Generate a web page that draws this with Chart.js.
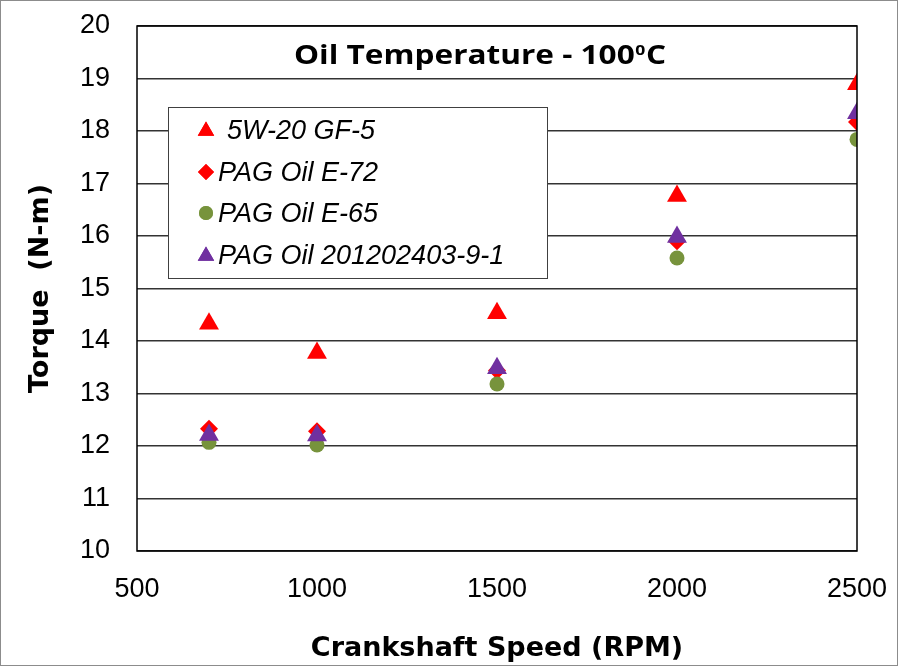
<!DOCTYPE html>
<html>
<head>
<meta charset="utf-8">
<script src="https://cdn.jsdelivr.net/npm/chart.js@4"></script>
<style>
  html, body { margin: 0; padding: 0; background: #fff; }
  #wrap { width: 899px; height: 667px; position: relative; }
</style>
</head>
<body>
<div id="wrap"><canvas id="c" width="899" height="667"></canvas></div>
<script>
// Crankshaft speed (RPM)
const speeds = [700, 1000, 1500, 2000, 2500];

// Torque (N-m) per oil
const gf5     = [14.33, 13.77, 14.53, 16.76, 18.89];
const pagE72  = [12.33, 12.28, 13.44, 15.90, 18.17];
const pagE65  = [12.07, 12.02, 13.18, 15.58, 17.84];
const pag2012 = [12.21, 12.20, 13.48, 15.98, 18.34];

const seriesNames = ["5W-20 GF-5", "PAG Oil E-72", "PAG Oil E-65", "PAG Oil 201202403-9-1"];
const yTicks = [10, 11, 12, 13, 14, 15, 16, 17, 18, 19, 20];
const xTicks = [500, 1000, 1500, 2000, 2500];

const toPts = arr => arr.map((v, i) => ({ x: speeds[i], y: v }));

const datasets = [
  { label: seriesNames[0], data: toPts(gf5), pointStyle: "triangle", pointRadius: 11.5,
    backgroundColor: "#ff0000", borderColor: "#ff0000", order: 3 },
  { label: seriesNames[1], data: toPts(pagE72), pointStyle: "rectRot", pointRadius: 9,
    backgroundColor: "#ff0000", borderColor: "#ff0000", order: 2 },
  { label: seriesNames[2], data: toPts(pagE65), pointStyle: "circle", pointRadius: 7.5,
    backgroundColor: "#77933c", borderColor: "#77933c", order: 1 },
  { label: seriesNames[3], data: toPts(pag2012), pointStyle: "triangle", pointRadius: 11.5,
    backgroundColor: "#7030a0", borderColor: "#7030a0", order: 0 }
];
datasets.forEach(d => { d.borderWidth = 0; d.pointHoverRadius = d.pointRadius; d.showLine = false; });

const AXIS_FONT = "'Liberation Sans', Arial, sans-serif";

// frame, plot border, title and legend drawn inside the plot area
const decor = {
  id: "decor",
  afterDraw(chart){
    const ctx = chart.ctx;
    const a = chart.chartArea;
    ctx.save();
    // plot border
    ctx.strokeStyle = "#000";
    ctx.lineWidth = 1.5;
    ctx.strokeRect(a.left, a.top, a.right - a.left, a.bottom - a.top);
    // outer frame
    ctx.strokeStyle = "#8c8c8c";
    ctx.lineWidth = 1;
    ctx.strokeRect(0.5, 0.5, chart.width - 2, chart.height - 2);

    // title, stretched to the width of the original
    ctx.fillStyle = "#000";
    ctx.textBaseline = "alphabetic";
    ctx.textAlign = "left";
    const big = "bold 27px 'Open Sans', sans-serif";
    const small = "bold 15px 'Open Sans', sans-serif";
    const t1 = "Oil Temperature - 100";
    ctx.font = big;
    const w1 = ctx.measureText(t1).width;
    const w3 = ctx.measureText("C").width;
    ctx.font = small;
    const w2 = ctx.measureText("0").width + 1;
    const total = w1 + w2 + w3;
    const sx = 372 / total;
    ctx.translate(480 - 372 / 2, 64);
    ctx.scale(sx, 1);
    ctx.font = big;
    ctx.fillText(t1, 0, 0);
    ctx.font = small;
    ctx.fillText("0", w1 + 0.5, -9);
    ctx.font = big;
    ctx.fillText("C", w1 + w2, 0);
    ctx.setTransform(1, 0, 0, 1, 0, 0);

    // legend box
    const lx = 168, ly = 107, lw = 379, lh = 171;
    ctx.fillStyle = "#fff";
    ctx.fillRect(lx, ly, lw, lh);
    ctx.strokeStyle = "#404040";
    ctx.lineWidth = 1;
    ctx.strokeRect(lx + 0.5, ly + 0.5, lw, lh);
    const rows = [130, 172, 213, 255];
    ctx.textBaseline = "middle";
    chart.data.datasets.forEach((ds, i) => {
      const cy = rows[i];
      const cx = 206;
      ctx.fillStyle = ds.backgroundColor;
      const r = ds.pointStyle === "triangle" ? 9.5 : (ds.pointStyle === "rectRot" ? 8 : 7);
      Chart.helpers.drawPoint(ctx, { pointStyle: ds.pointStyle, radius: r, rotation: 0, borderWidth: 0 }, cx, cy + (ds.pointStyle === "triangle" ? 1 : 0));
      ctx.fill();
      ctx.fillStyle = "#000";
      ctx.font = "italic 27px " + AXIS_FONT;
      ctx.textAlign = "left";
      ctx.fillText(ds.label, i === 0 ? 227 : 218, cy + 1);
    });
    ctx.restore();
  }
};

new Chart(document.getElementById("c"), {
  type: "scatter",
  data: { datasets },
  options: {
    responsive: false,
    animation: false,
    events: [],
    layout: { padding: { left: 0, right: 42, top: 26, bottom: 0 } },
    plugins: { legend: { display: false }, tooltip: { enabled: false } },
    scales: {
      x: {
        type: "linear", min: 500, max: 2500,
        afterBuildTicks: s => { s.ticks = xTicks.map(v => ({ value: v })); },
        afterFit: s => { s.height = 116; s.paddingLeft = 0; s.paddingRight = 0; },
        grid: { display: false, drawTicks: false },
        border: { display: false },
        ticks: { color: "#000", padding: 22, callback: v => String(v),
                 font: { family: AXIS_FONT, size: 27 } },
        title: { display: true, text: "Crankshaft Speed (RPM)", color: "#000", padding: { top: 10, bottom: 2 },
                 font: { family: "'DejaVu Sans', sans-serif", size: 27, weight: "bold" } }
      },
      y: {
        type: "linear", min: 10, max: 20,
        afterBuildTicks: s => { s.ticks = yTicks.map(v => ({ value: v })); },
        afterFit: s => { s.width = 137; s.paddingTop = 0; s.paddingBottom = 0; },
        grid: { color: "#333", lineWidth: 1.5, drawTicks: false },
        border: { display: false },
        ticks: { color: "#000", padding: 27, callback: v => String(v),
                 font: { family: AXIS_FONT, size: 27 } },
        title: { display: true, text: "Torque  (N-m)", color: "#000", padding: { top: 25, bottom: 0 },
                 font: { family: "'DejaVu Sans', sans-serif", size: 27, weight: "bold" } }
      }
    }
  },
  plugins: [decor]
});
</script>
</body>
</html>
